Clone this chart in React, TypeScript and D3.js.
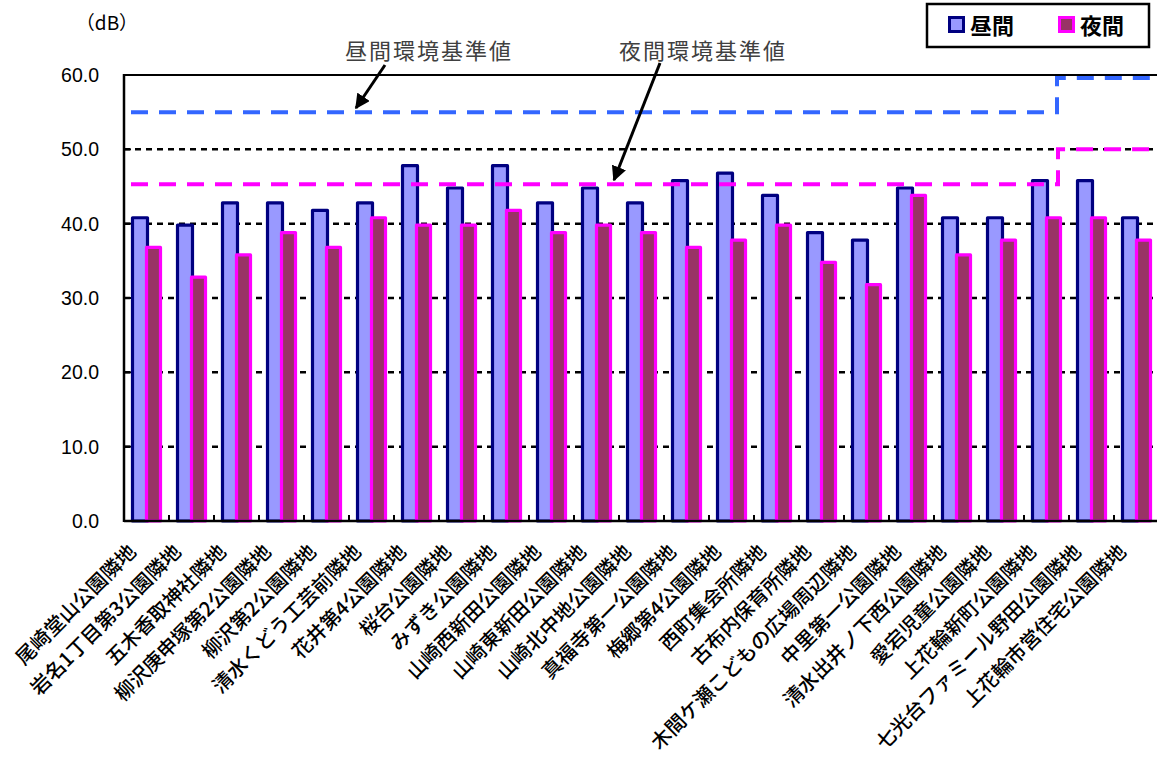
import React from "react";
import * as d3 from "d3";

const categories = [
  "尾崎堂山公園隣地",
  "岩名1丁目第3公園隣地",
  "五木香取神社隣地",
  "柳沢庚申塚第2公園隣地",
  "柳沢第2公園隣地",
  "清水くどう工芸前隣地",
  "花井第4公園隣地",
  "桜台公園隣地",
  "みずき公園隣地",
  "山崎西新田公園隣地",
  "山崎東新田公園隣地",
  "山崎北中地公園隣地",
  "真福寺第一公園隣地",
  "梅郷第4公園隣地",
  "西町集会所隣地",
  "古布内保育所隣地",
  "木間ケ瀬こどもの広場周辺隣地",
  "中里第一公園隣地",
  "清水出井ノ下西公園隣地",
  "愛宕児童公園隣地",
  "上花輪新町公園隣地",
  "七光台ファミール野田公園隣地",
  "上花輪市営住宅公園隣地",
];
const dayValues = [41, 40, 43, 43, 42, 43, 48, 45, 48, 43, 45, 43, 46, 47, 44, 39, 38, 45, 41, 41, 46, 46, 41];
const nightValues = [37, 33, 36, 39, 37, 41, 40, 40, 42, 39, 40, 39, 37, 38, 40, 35, 32, 44, 36, 38, 41, 41, 38];
const yTicks = [0, 10, 20, 30, 40, 50, 60];
const gridValues = [10, 20, 30, 40, 50];
// environmental standard lines: value before step, value after step
const dayStandard = [55, 59.6];
const nightStandard = [45.3, 50];
const stepIndex = 21;
const seriesNames = ["昼間", "夜間"];

const W = 1157, H = 758;
const left = 124, top = 75, bottom = 521;
const band = 45;

export default function App() {
  const x = d3.scaleBand<string>().domain(categories).range([left, left + band * categories.length]).padding(0);
  const y = d3.scaleLinear().domain([0, 60]).range([bottom, top]);
  const right = left + band * categories.length;
  const cx = (i: number) => (x(categories[i]) as number) + band / 2;

  const stepX = (x(categories[stepIndex]) as number) - 12;
  const line = d3.line<[number, number]>().x(d => d[0]).y(d => d[1]);
  const dayPath = line([
    [left + 7, y(dayStandard[0])],
    [stepX, y(dayStandard[0])],
    [stepX, y(dayStandard[1])],
    [right, y(dayStandard[1])],
  ]);
  const nightPath = line([
    [left + 7, y(nightStandard[0])],
    [stepX + 1, y(nightStandard[0])],
    [stepX + 1, y(nightStandard[1])],
    [right, y(nightStandard[1])],
  ]);

  const labelFont = "'Noto Sans CJK JP', 'Noto Sans', sans-serif";
  const numFont = "Arial, 'Liberation Sans', sans-serif";

  return (
    <svg width={W} height={H} style={{ position: "absolute", left: 0, top: 0, background: "#fff" }}>
      <defs>
        <marker id="arr" viewBox="0 0 10 10" refX="9" refY="5" markerWidth="5" markerHeight="5" orient="auto">
          <path d="M0,0 L10,5 L0,10 z" fill="#000" />
        </marker>
      </defs>
      {/* grid lines */}
      {gridValues.map(v => (
        <line key={v} x1={left} x2={right} y1={y(v)} y2={y(v)} stroke="#000" strokeWidth={2.5} strokeDasharray="6,5" />
      ))}
      <line x1={left} x2={right} y1={y(60)} y2={y(60)} stroke="#000" strokeWidth={2} />
      {/* y ticks */}
      {yTicks.map(v => (
        <g key={v}>
          <line x1={left} x2={left + 7} y1={y(v)} y2={y(v)} stroke="#000" strokeWidth={2} />
          <text x={99} y={y(v)} dy="0.36em" textAnchor="end" fontSize={19.5} fontFamily={numFont} fill="#000">
            {v.toFixed(1)}
          </text>
        </g>
      ))}
      {/* bars */}
      {categories.map((c, i) => {
        const cc = cx(i);
        return (
          <g key={c}>
            <rect x={cc - 14} y={y(dayValues[i]) + 1.5} width={15} height={bottom - y(dayValues[i]) - 1.5}
              fill="#9999FF" stroke="#000080" strokeWidth={3.2} strokeLinejoin="round" />
            <rect x={cc} y={y(nightValues[i]) + 1.5} width={14} height={bottom - y(nightValues[i]) - 1.5}
              fill="#993366" stroke="#FF00FF" strokeWidth={3.2} strokeLinejoin="round" />
          </g>
        );
      })}
      {/* standard lines */}
      <path d={dayPath as string} fill="none" stroke="#3366FF" strokeWidth={4} strokeDasharray="17,11" />
      <path d={nightPath as string} fill="none" stroke="#FF00FF" strokeWidth={4} strokeDasharray="17,11" />
      {/* axes */}
      <line x1={left} x2={left} y1={top - 1} y2={bottom + 1} stroke="#000" strokeWidth={2.5} />
      <line x1={left} x2={right} y1={bottom} y2={bottom} stroke="#000" strokeWidth={2.5} />
      {categories.map((c) => (
        <line key={"t" + c} x1={(x(c) as number) + band} x2={(x(c) as number) + band} y1={bottom} y2={bottom - 6} stroke="#000" strokeWidth={2} />
      ))}
      {/* x labels */}
      {categories.map((c, i) => (
        <text key={"l" + c} transform={`translate(${cx(i) - 9},${553}) rotate(-45)`} textAnchor="end"
          fontSize={20} fontFamily={labelFont} fontWeight={500} fill="#000">
          {c}
        </text>
      ))}
      {/* unit */}
      <text x={107} y={30} textAnchor="middle" fontSize={19} fontFamily={labelFont} fill="#000">（dB）</text>
      {/* annotations */}
      <text x={429} y={59} textAnchor="middle" fontSize={22} letterSpacing={2} fontFamily={labelFont} fill="#404040">昼間環境基準値</text>
      <text x={703} y={59} textAnchor="middle" fontSize={22} letterSpacing={2} fontFamily={labelFont} fill="#404040">夜間環境基準値</text>
      <line x1={385} y1={65} x2={356} y2={108} stroke="#000" strokeWidth={3} markerEnd="url(#arr)" />
      <line x1={660} y1={63} x2={614} y2={180} stroke="#000" strokeWidth={3} markerEnd="url(#arr)" />
      {/* legend */}
      <rect x={927} y={4} width={222} height={43} fill="#fff" stroke="#000" strokeWidth={2.5} />
      <rect x={949.5} y={17.5} width={14} height={14} fill="#9999FF" stroke="#000080" strokeWidth={3} />
      <text x={970} y={34} fontSize={22} fontWeight="bold" fontFamily={labelFont} fill="#000">{seriesNames[0]}</text>
      <rect x={1059.5} y={17.5} width={14} height={14} fill="#993366" stroke="#FF00FF" strokeWidth={3} />
      <text x={1080} y={34} fontSize={22} fontWeight="bold" fontFamily={labelFont} fill="#000">{seriesNames[1]}</text>
    </svg>
  );
}
